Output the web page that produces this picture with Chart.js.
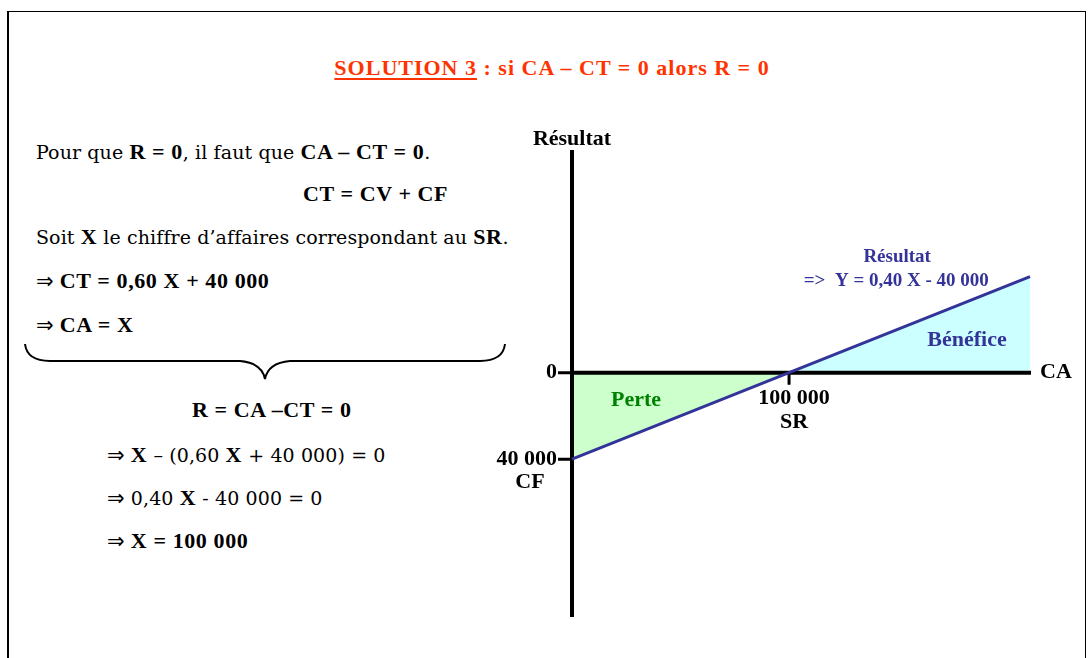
<!DOCTYPE html>
<html lang="fr">
<head>
<meta charset="utf-8">
<title>Solution 3 - seuil de rentabilité</title>
<script src="https://cdn.jsdelivr.net/npm/chart.js@4/dist/chart.umd.min.js"></script>
<style>
  html, body { margin: 0; padding: 0; background: #fff; }
  body { width: 1088px; height: 658px; position: relative; overflow: hidden; }
  #cadre { position: absolute; left: 7px; top: 11px; width: 1076px; height: 700px; border: 1px solid #000; border-left-width: 2px; }
  .t { position: absolute; white-space: nowrap; font-family: "DejaVu Serif", serif; font-size: 19px; line-height: 26px; color: #000; letter-spacing: 0.1px; }
  .b { font-family: "Liberation Serif", "Times New Roman", serif; font-weight: bold; font-size: 22px; letter-spacing: 0.6px; }
  .f { font-family: "DejaVu Sans", sans-serif; font-size: 21px; }
  #titre { position: absolute; left: 0; width: 1104px; top: 54px; text-align: center; font-family: "Liberation Serif", serif; font-weight: bold; font-size: 22px; letter-spacing: 1px; color: #ff3300; line-height: 28px; }
  #titre u { text-decoration-thickness: 2px; text-underline-offset: 3px; }
  #accolade { position: absolute; left: 0; top: 0; }
  #zone { position: absolute; left: 480px; top: 108px; width: 600px; height: 532px; }
</style>
</head>
<body>
<div id="cadre"></div>
<div id="titre"><u>SOLUTION 3</u> : si CA – CT = 0 alors R = 0</div>

<div class="t" style="left:36px; top:139px">Pour que <span class="b">R = 0</span>, il faut que <span class="b">CA – CT = 0</span>.</div>
<div class="t" style="left:303px; top:181px"><span class="b">CT = CV + CF</span></div>
<div class="t" style="left:36px; top:224px">Soit <span class="b">X</span> le chiffre d’affaires correspondant au <span class="b">SR</span>.</div>
<div class="t" style="left:36px; top:268px"><span class="f">⇒</span> <span class="b">CT = 0,60 X + 40 000</span></div>
<div class="t" style="left:36px; top:312px"><span class="f">⇒</span> <span class="b">CA = X</span></div>

<svg id="accolade" width="560" height="400">
  <path d="M25 344 Q27 361 50 361 L240 361 Q262 363 265 379 Q268 363 290 361 L480 361 Q503 361 505 344" fill="none" stroke="#000" stroke-width="2"/>
</svg>

<div class="t" style="left:192px; top:397px"><span class="b">R = CA –CT = 0</span></div>
<div class="t" style="left:107px; top:442px"><span class="f">⇒</span> <span class="b">X</span> – (0,60 <span class="b">X</span> + 40 000) = 0</div>
<div class="t" style="left:107px; top:485px"><span class="f">⇒</span> 0,40 <span class="b">X</span> - 40 000 = 0</div>
<div class="t" style="left:107px; top:528px"><span class="f">⇒</span> <span class="b">X = 100 000</span></div>

<div id="zone"><canvas id="graphe"></canvas></div>

<script>
// chiffre d'affaires (CA) et résultat correspondant : Y = 0,40 X - 40 000
const caValues = [0, 100000, 211000];
const resultatValues = [-40000, 0, 44400];

// graduations marquées sur les axes
const xTicks = [100000];
const xTickLabels = [["100 000", "SR"]];
const yTicks = [0, -40000];
const yTickLabels = [["0"], ["40 000", "CF"]];

const xMin = 0, xMax = 211000;
const yMin = -113000, yMax = 103000;

const NOIR = "#000";
const BLEU = "#333399";
const VERT = "#008000";
const SERIF = '"Liberation Serif", "Times New Roman", serif';

/* ---------- Axes et textes dessinés avec les échelles ---------- */
const axesPlugin = {
  id: "axes",
  beforeDatasetsDraw(chart) {
    const { ctx, chartArea: a, scales: { x, y } } = chart;
    const x0 = x.getPixelForValue(0);
    const y0 = y.getPixelForValue(0);
    ctx.save();
    ctx.strokeStyle = NOIR;
    ctx.lineWidth = 4;
    ctx.beginPath();
    ctx.moveTo(x0, a.top);
    ctx.lineTo(x0, a.bottom);
    ctx.moveTo(x0, y0);
    ctx.lineTo(a.right + 1, y0);
    ctx.stroke();

    // petites graduations
    ctx.lineWidth = 3;
    ctx.beginPath();
    xTicks.forEach(v => {
      const px = x.getPixelForValue(v);
      ctx.moveTo(px, y0);
      ctx.lineTo(px, y0 + 12);
    });
    yTicks.forEach(v => {
      const py = y.getPixelForValue(v);
      ctx.moveTo(x0 - 14, py);
      ctx.lineTo(x0, py);
    });
    ctx.stroke();
    ctx.restore();
  },
  afterDatasetsDraw(chart) {
    const { ctx, chartArea: a, scales: { x, y } } = chart;
    const x0 = x.getPixelForValue(0);
    const y0 = y.getPixelForValue(0);
    ctx.save();
    ctx.textBaseline = "middle";
    ctx.fillStyle = NOIR;
    ctx.font = "bold 22px " + SERIF;

    // titres des axes
    ctx.textAlign = "center";
    ctx.fillText("Résultat", x0, a.top - 11);
    ctx.textAlign = "left";
    ctx.fillText("CA", a.right + 10, y0);

    // étiquettes des graduations
    xTicks.forEach((v, i) => {
      const px = x.getPixelForValue(v) + 5;
      ctx.textAlign = "center";
      xTickLabels[i].forEach((s, k) => ctx.fillText(s, px, y0 + 26 + k * 24));
    });
    yTicks.forEach((v, i) => {
      const py = y.getPixelForValue(v);
      const lines = yTickLabels[i];
      ctx.textAlign = "right";
      ctx.fillText(lines[0], x0 - 15, py);
      if (lines[1]) {
        ctx.textAlign = "center";
        ctx.fillText(lines[1], x0 - 42, py + 23);
      }
    });

    // zones
    ctx.textAlign = "center";
    ctx.fillStyle = VERT;
    ctx.fillText("Perte", x.getPixelForValue(29500), y.getPixelForValue(-13000));
    ctx.fillStyle = BLEU;
    ctx.fillText("Bénéfice", x.getPixelForValue(182000), y.getPixelForValue(15000));

    // équation du résultat
    ctx.font = "bold 19px " + SERIF;
    ctx.fillText("Résultat", x.getPixelForValue(149800), y.getPixelForValue(53500));
    ctx.fillText("=>  Y = 0,40 X - 40 000", x.getPixelForValue(149400), y.getPixelForValue(42300));
    ctx.restore();
  }
};

new Chart(document.getElementById("graphe"), {
  type: "line",
  data: {
    datasets: [{
      label: "Résultat",
      data: caValues.map((v, i) => ({ x: v, y: resultatValues[i] })),
      borderColor: BLEU,
      borderWidth: 3,
      pointRadius: 0,
      tension: 0,
      clip: false,
      fill: { target: "origin", above: "#ccffff", below: "#ccffcc" }
    }]
  },
  options: {
    responsive: true,
    maintainAspectRatio: false,
    animation: false,
    layout: { padding: { left: 92, right: 50, top: 42, bottom: 23 } },
    scales: {
      x: { type: "linear", min: xMin, max: xMax, display: false },
      y: { type: "linear", min: yMin, max: yMax, display: false }
    },
    plugins: {
      legend: { display: false },
      tooltip: { enabled: false },
      filler: { drawTime: "beforeDatasetsDraw" }
    }
  },
  plugins: [axesPlugin]
});
</script>
</body>
</html>
